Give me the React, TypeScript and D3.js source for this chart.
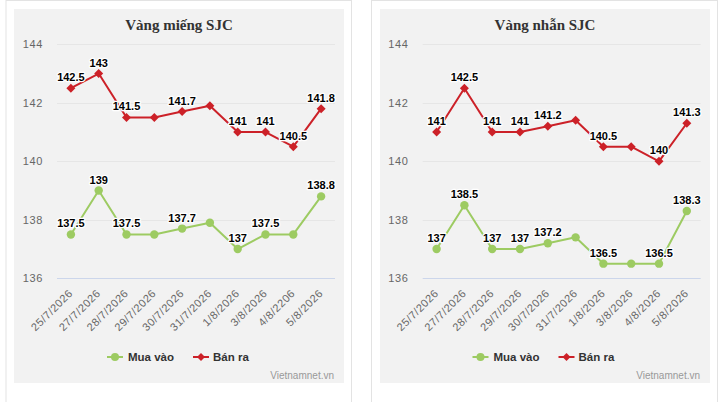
import React from "react";
import * as d3 from "d3";

const datesBar = ["25/7/2026", "27/7/2026", "28/7/2026", "29/7/2026", "30/7/2026", "31/7/2026", "1/8/2026", "3/8/2026", "4/8/2206", "5/8/2026"];
const datesRing = ["25/7/2026", "27/7/2026", "28/7/2026", "29/7/2026", "30/7/2026", "31/7/2026", "1/8/2026", "3/8/2026", "4/8/2026", "5/8/2026"];

const barBuy = [137.5, 139, 137.5, 137.5, 137.7, 137.9, 137, 137.5, 137.5, 138.8];
const barSell = [142.5, 143, 141.5, 141.5, 141.7, 141.9, 141, 141, 140.5, 141.8];
const ringBuy = [137, 138.5, 137, 137, 137.2, 137.4, 136.5, 136.5, 136.5, 138.3];
const ringSell = [141, 142.5, 141, 141, 141.2, 141.4, 140.5, 140.5, 140, 141.3];

// indices whose data labels are hidden (overlap) in the reference
const barBuyHidden = [3, 5, 8];
const barSellHidden = [3, 5];
const ringBuyHidden = [5, 7];
const ringSellHidden = [5, 7];

const yTicks = [136, 138, 140, 142, 144];
const seriesNames = ["Mua vào", "Bán ra"];
const credit = "Vietnamnet.vn";

const GREEN = "#9dcb62";
const RED = "#cc2128";
const SANS = "'Liberation Sans', Arial, sans-serif";

type PanelProps = {
  title: string;
  dates: string[];
  buy: number[];
  sell: number[];
  buyHidden: number[];
  sellHidden: number[];
  cardX0: number;
  cardX1: number;
  grayX0: number;
  grayX1: number;
  plotX0: number;
  plotX1: number;
  yLabelRight: number;
  legendX: number;
};

function Panel(p: PanelProps) {
  const y = d3.scaleLinear().domain([136, 144]).range([278.3, 44.3]);
  const idx = p.dates.map((_, i) => i);
  const x = d3.scalePoint<number>().domain(idx).range([p.plotX0, p.plotX1]).padding(0.5);
  const line = d3
    .line<number>()
    .x((_, i) => x(i) as number)
    .y((v) => y(v));
  const grayCx = (p.grayX0 + p.grayX1) / 2;
  const diamond = (cx: number, cy: number, r: number) =>
    `M${cx},${cy - r}L${cx + r},${cy}L${cx},${cy + r}L${cx - r},${cy}Z`;

  const labels = (vals: number[], hidden: number[]) =>
    vals.map((v, i) =>
      hidden.includes(i) ? null : (
        <text
          key={i}
          x={x(i)}
          y={y(v) - 7}
          textAnchor="middle"
          fontFamily={SANS}
          fontWeight="bold"
          fontSize={11}
          fill="#000"
          stroke="#fff"
          strokeWidth={2.5}
          strokeLinejoin="round"
          paintOrder="stroke"
        >
          {v}
        </text>
      )
    );

  return (
    <g>
      <rect x={p.cardX0 + 0.5} y={0.5} width={p.cardX1 - p.cardX0} height={420} fill="#fff" stroke="#e3e3e3" />
      <rect x={p.grayX0} y={9} width={p.grayX1 - p.grayX0} height={374} fill="#f2f2f2" />
      <text x={grayCx} y={30} textAnchor="middle" fontFamily="'Liberation Serif', 'Times New Roman', serif" fontWeight="bold" fontSize={15} fill="#333">
        {p.title}
      </text>
      {yTicks.map((t) => (
        <g key={t}>
          <line
            x1={p.plotX0}
            x2={p.plotX1}
            y1={Math.round(y(t)) + 0.5}
            y2={Math.round(y(t)) + 0.5}
            stroke={t === 136 ? "#ccd6eb" : "#e6e6e6"}
            strokeWidth={1}
          />
          <text x={p.yLabelRight} y={y(t) + 4} textAnchor="end" fontFamily={SANS} fontSize={11} fill="#666" letterSpacing={0.6}>
            {t}
          </text>
        </g>
      ))}
      {p.dates.map((d, i) => (
        <text
          key={d + i}
          transform={`translate(${(x(i) as number) + 2.5},${294}) rotate(-45)`}
          textAnchor="end"
          fontFamily={SANS}
          fontSize={11}
          fill="#666"
          letterSpacing={0.5}
        >
          {d}
        </text>
      ))}
      <path d={line(p.sell) || ""} fill="none" stroke={RED} strokeWidth={2} strokeLinejoin="round" />
      <path d={line(p.buy) || ""} fill="none" stroke={GREEN} strokeWidth={2} strokeLinejoin="round" />
      {p.sell.map((v, i) => (
        <path key={i} d={diamond(x(i) as number, y(v), 4.5)} fill={RED} />
      ))}
      {p.buy.map((v, i) => (
        <circle key={i} cx={x(i)} cy={y(v)} r={4.2} fill={GREEN} />
      ))}
      {labels(p.sell, p.sellHidden)}
      {labels(p.buy, p.buyHidden)}
      {/* legend */}
      <g transform={`translate(${p.legendX},357)`}>
        <line x1={0} x2={16} y1={0} y2={0} stroke={GREEN} strokeWidth={2} />
        <circle cx={8} cy={0} r={4} fill={GREEN} />
        <text x={21} y={4.2} fontFamily={SANS} fontWeight="bold" fontSize={11.5} fill="#333">
          {seriesNames[0]}
        </text>
        <line x1={86} x2={102} y1={0} y2={0} stroke={RED} strokeWidth={2} />
        <path d={diamond(94, 0, 4)} fill={RED} />
        <text x={106} y={4.2} fontFamily={SANS} fontWeight="bold" fontSize={11.5} fill="#333">
          {seriesNames[1]}
        </text>
      </g>
      <text x={p.grayX1 - 10} y={379} textAnchor="end" fontFamily={SANS} fontSize={10} fill="#999">
        {credit}
      </text>
    </g>
  );
}

export default function App() {
  return (
    <svg width={719} height={402} style={{ position: "absolute", left: 0, top: 0 }}>
      <rect x={0} y={0} width={719} height={402} fill="#fff" />
      <Panel
        title="Vàng miếng SJC"
        dates={datesBar}
        buy={barBuy}
        sell={barSell}
        buyHidden={barBuyHidden}
        sellHidden={barSellHidden}
        cardX0={5.5}
        cardX1={351}
        grayX0={14}
        grayX1={344}
        plotX0={57}
        plotX1={335}
        yLabelRight={43}
        legendX={107}
      />
      <Panel
        title="Vàng nhẫn SJC"
        dates={datesRing}
        buy={ringBuy}
        sell={ringSell}
        buyHidden={ringBuyHidden}
        sellHidden={ringSellHidden}
        cardX0={371}
        cardX1={717}
        grayX0={380}
        grayX1={710}
        plotX0={422.7}
        plotX1={700.7}
        yLabelRight={408.5}
        legendX={472.5}
      />
    </svg>
  );
}
